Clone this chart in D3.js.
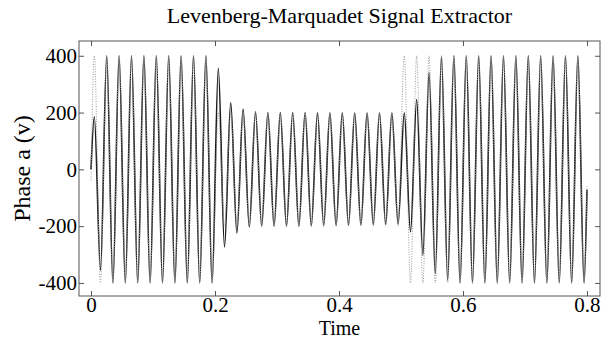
<!DOCTYPE html>
<html>
<head>
<meta charset="utf-8">
<script src="https://cdn.jsdelivr.net/npm/d3@7"></script>
<style>
  body { margin: 0; background: #fff; }
  text { font-family: "Liberation Serif", "Times New Roman", Times, serif; }
</style>
</head>
<body>
<svg id="chart"></svg>
<script>
// 50 Hz signal, extremes every half period
const firstPeakTime = 0.0053;
const halfPeriod = 0.01;

// actual signal (dotted): value at each successive peak / trough
const actualStart = { t: 0, v: -38 };
const actualExtremes = [
  400, -400, 400, -400, 400, -400, 400, -400, 400, -400,
  400, -400, 400, -400, 400, -400, 400, -400, 400, -400,
  200, -200, 200, -200, 200, -200, 200, -200, 200, -200,
  200, -200, 200, -200, 200, -200, 200, -200, 200, -200,
  200, -200, 200, -200, 200, -200, 200, -200, 200, -200,
  400, -400, 400, -400, 400, -400, 400, -400, 400, -400,
  400, -400, 400, -400, 400, -400, 400, -400, 400, -400,
  400, -400, 400, -400, 400, -400, 400, -400, 400, -400
];
const actualEnd = { t: 0.8, v: -60 };

// extracted signal (solid)
const estStart = { t: 0, v: 0 };
const estExtremes = [
  185, -355, 400, -400, 400, -400, 400, -400, 400, -400,
  400, -400, 400, -400, 400, -400, 400, -400, 400, -400,
  356, -273, 234, -224, 212, -203, 203, -200, 200, -200,
  200, -200, 200, -200, 200, -199, 199, -198, 199, -198,
  199, -197, 199, -196, 199, -195, 199, -194, 199, -193,
  199, -220, 246, -302, 341, -367, 396, -390, 400, -400,
  400, -400, 400, -400, 400, -400, 400, -400, 400, -400,
  400, -400, 400, -400, 400, -400, 400, -400, 400, -400
];
const estEnd = { t: 0.8, v: -72 };

const xTicks = [0, 0.2, 0.4, 0.6, 0.8];
const yTicks = [-400, -200, 0, 200, 400];

const W = 609, H = 340;
const margin = { top: 41, right: 9, bottom: 44, left: 79 },
    width = W - margin.left - margin.right,
    height = H - margin.top - margin.bottom;

const svg = d3.select("#chart").attr("width", W).attr("height", H);
const g = svg.append("g").attr("transform", `translate(${margin.left},${margin.top})`);

const x = d3.scaleLinear().domain([-0.0194, 0.8210]).range([0, width]);
const y = d3.scaleLinear().domain([-446, 452]).range([height, 0]);

function toPoints(start, extremes, end) {
  const pts = [start];
  extremes.forEach((v, i) => pts.push({ t: firstPeakTime + i * halfPeriod, v: v }));
  pts.push(end);
  return pts;
}

const line = d3.line()
  .x(d => x(d.t))
  .y(d => y(d.v))
  .curve(d3.curveMonotoneX);

g.append("path")
  .datum(toPoints(estStart, estExtremes, estEnd))
  .attr("fill", "none")
  .attr("stroke", "#1a1a1a")
  .attr("stroke-width", 1.6)
  .attr("d", line);

g.append("path")
  .datum(toPoints(actualStart, actualExtremes, actualEnd))
  .attr("fill", "none")
  .attr("stroke", "#999")
  .attr("stroke-width", 1)
  .attr("stroke-dasharray", "1,1.5")
  .attr("d", line);

// axes box with inward ticks on all sides
const tick = 5;
const fmtX = d => d === 0 ? "0" : d3.format(".1f")(d);
const serif = "Liberation Serif, Times New Roman, Times, serif";

const axB = g.append("g").attr("transform", `translate(0,${height})`)
  .call(d3.axisBottom(x).tickValues(xTicks).tickSizeInner(-tick).tickSizeOuter(0).tickPadding(1).tickFormat(fmtX));
const axT = g.append("g")
  .call(d3.axisTop(x).tickValues(xTicks).tickSizeInner(-tick).tickSizeOuter(0).tickFormat(""));
const axL = g.append("g")
  .call(d3.axisLeft(y).tickValues(yTicks).tickSizeInner(-tick).tickSizeOuter(0).tickPadding(2).tickFormat(d => String(d)));
const axR = g.append("g").attr("transform", `translate(${width},0)`)
  .call(d3.axisRight(y).tickValues(yTicks).tickSizeInner(-tick).tickSizeOuter(0).tickFormat(""));

[axB, axT, axL, axR].forEach(a => {
  a.attr("font-family", serif).attr("font-size", 21);
  a.select(".domain").remove();
  a.selectAll("line").attr("stroke", "#555");
  a.selectAll("text").attr("fill", "#000");
});
axB.selectAll("text").attr("dy", "0.71em");

g.append("rect")
  .attr("width", width).attr("height", height)
  .attr("fill", "none").attr("stroke", "#555").attr("stroke-width", 1);

svg.append("text")
  .attr("x", margin.left + width / 2)
  .attr("y", 23)
  .attr("text-anchor", "middle")
  .style("font-size", "22px")
  .text("Levenberg-Marquadet Signal Extractor");

svg.append("text")
  .attr("x", margin.left + width / 2)
  .attr("y", 335)
  .attr("text-anchor", "middle")
  .style("font-size", "20px")
  .text("Time");

svg.append("text")
  .attr("transform", `translate(30,${margin.top + height / 2}) rotate(-90)`)
  .attr("text-anchor", "middle")
  .style("font-size", "24px")
  .text("Phase a (v)");
</script>
</body>
</html>
